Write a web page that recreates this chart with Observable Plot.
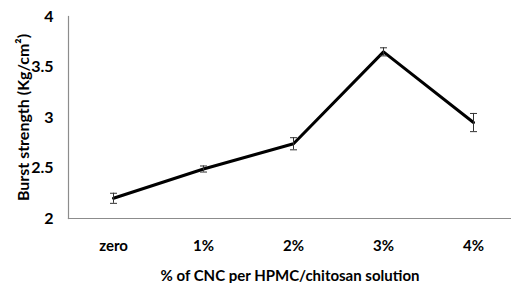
<!DOCTYPE html>
<html>
<head>
<meta charset="utf-8">
<script src="https://cdn.jsdelivr.net/npm/d3@7"></script>
<script src="https://cdn.jsdelivr.net/npm/@observablehq/plot@0.6"></script>
<style>
  html, body { margin: 0; padding: 0; background: #fff; }
  svg { display: block; }
</style>
</head>
<body>
<div id="chart"></div>
<script>
const categories = ["zero", "1%", "2%", "3%", "4%"];
const burst = [2.2, 2.49, 2.74, 3.65, 2.95];
const errors = [0.05, 0.03, 0.06, 0.04, 0.09];
const yTicks = [2, 2.5, 3, 3.5, 4];

const data = categories.map((c, i) => ({c, v: burst[i], lo: burst[i] - errors[i], hi: burst[i] + errors[i]}));

const capSymbol = {
  draw(ctx, size) {
    const r = Math.sqrt(size / Math.PI);
    ctx.moveTo(-r, 0);
    ctx.lineTo(r, 0);
  }
};

const chart = Plot.plot({
  width: 511,
  height: 283,
  marginLeft: 68,
  marginRight: 0,
  marginTop: 16,
  marginBottom: 65,
  style: {fontFamily: "Lato, sans-serif", fontWeight: 700, color: "#000", background: "#fff"},
  x: {type: "point", domain: categories, padding: 0, insetLeft: 45, insetRight: 38},
  y: {domain: [2, 4]},
  marks: [
    Plot.frame({anchor: "left", stroke: "#8c8c8c", strokeWidth: 1.2}),
    Plot.frame({anchor: "bottom", stroke: "#8c8c8c", strokeWidth: 1.2}),
    Plot.axisY({ticks: yTicks, tickSize: 0, tickPadding: 15, fontSize: 16, tickFormat: d => String(d),
      label: null}),
    Plot.axisY({ticks: [], tickSize: 0, fontSize: 16,
      label: "Burst strength (Kg/cm²)", labelAnchor: "center", labelArrow: "none", labelOffset: 51}),
    Plot.axisX({tickSize: 0, tickPadding: 22, fontSize: 15, label: null}),
    Plot.axisX({ticks: [], tickSize: 0, fontSize: 15,
      label: "% of CNC per HPMC/chitosan solution", labelAnchor: "center", labelArrow: "none", labelOffset: 62}),
    Plot.line(data, {x: "c", y: "v", stroke: "#000", strokeWidth: 3}),
    Plot.ruleX(data, {x: "c", y1: "lo", y2: "hi", stroke: "#333", strokeWidth: 1}),
    Plot.dot(data, {x: "c", y: "lo", symbol: capSymbol, r: 3.5, stroke: "#333", strokeWidth: 1}),
    Plot.dot(data, {x: "c", y: "hi", symbol: capSymbol, r: 3.5, stroke: "#333", strokeWidth: 1})
  ]
});
document.getElementById("chart").appendChild(chart);
</script>
</body>
</html>
